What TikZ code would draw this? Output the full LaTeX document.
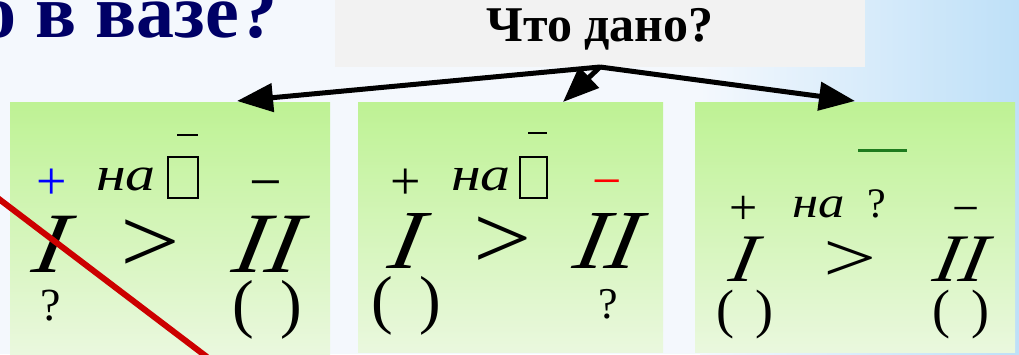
\documentclass[tikz,border=0pt]{standalone}
\usepackage{fontspec}
\setmainfont{Liberation Serif}
\usetikzlibrary{arrows.meta}
\definecolor{bgL}{RGB}{244,248,253}
\definecolor{bgR}{RGB}{190,224,248}
\definecolor{grnT}{RGB}{190,242,148}
\definecolor{grnB}{RGB}{234,248,222}
\definecolor{greyBox}{RGB}{242,242,242}
\definecolor{navy}{RGB}{0,0,102}
\definecolor{redLine}{RGB}{204,0,0}
\definecolor{darkGreen}{RGB}{30,123,30}
\newcommand\myfs[1]{\fontsize{#1}{#1}\selectfont}
\begin{document}
\begin{tikzpicture}[x=1pt,y=-1pt,
  txt/.style={anchor=base, inner sep=0pt, outer sep=0pt},
  roman/.style={txt, font={\myfs{#1}\itshape}, xslant=0.2, xscale=1.12, transform shape},
  gt/.style={txt, font={\myfs{#1}}},
  greenbox/.style={top color=grnT, bottom color=grnB, draw=none},
  arr/.style={line width=5pt, -{Triangle[length=36pt,width=28pt]}},
  glyphbox/.style={draw=black, line width=2.2pt},
  bar/.style={line width=1.8pt}]
\useasboundingbox (0,0) rectangle (1019,354);
\clip (0,0) rectangle (1019,354);
% background
\fill[bgL] (0,0) rectangle (1019,354);
\shade[left color=bgL, right color=bgR] (700,0) rectangle (1019,354);
% title
\node[txt, anchor=base east, text=navy, font={\myfs{76}\bfseries}] (title) at (277,37) {о в вазе?};
% question box
\node[fill=greyBox, minimum width=530pt, minimum height=67pt, inner sep=0pt] (q) at (600,33.5) {};
\node[txt, font={\myfs{50}\bfseries}] (qt) at (600,41) {Что дано?};
% green boxes
\path[greenbox] (10,102) rectangle (330,354);
\path[greenbox] (358,102) rectangle (663,352);
\path[greenbox] (695,102) rectangle (1015,352);
% arrows
\coordinate (src) at (600,67);
\coordinate (t1) at (237,101);
\coordinate (t2) at (563,102);
\coordinate (t3) at (855,101);
\draw[arr] (src) -- (t1);
\draw[arr] (src) -- (t2);
\draw[arr] (src) -- (t3);
% box 1
\node[txt, text=blue, font={\myfs{54}}] (p1) at (52,199) {+};
\node[txt, font={\myfs{48}\itshape}, xscale=1.25, transform shape] (na1) at (126,190) {на};
\draw[glyphbox] (168,157) rectangle (198,198);
\draw[bar] (177,135) -- (198,135);
\node[txt, font={\myfs{58}}] (m1) at (266,201) {−};
\node[roman=86] (i1) at (47,272) {I};
\node[gt=92, xscale=1.15, transform shape] (g1) at (150,272) {>};
\node[roman=86] (ii1) at (263,272) {II};
\node[txt, font={\myfs{46}}] (q1) at (51,320) {?};
\node[txt, font={\myfs{65}}] (par1) at (267,325) {(\hspace{26pt})};
% box 2
\node[txt, font={\myfs{54}}] (p2) at (406,199) {+};
\node[txt, font={\myfs{48}\itshape}, xscale=1.25, transform shape] (na2) at (481,190) {на};
\draw[glyphbox] (520,157) rectangle (547,198);
\draw[bar] (528,133) -- (547,133);
\node[txt, text=red, font={\myfs{52}}] (m2) at (607,198) {−};
\node[roman=84] (i2) at (402,268) {I};
\node[gt=90, xscale=1.15, transform shape] (g2) at (503,268) {>};
\node[roman=84] (ii2) at (603,268) {II};
\node[txt, font={\myfs{65}}] (par2) at (406,321) {(\hspace{26pt})};
\node[txt, font={\myfs{44}}] (q2) at (608,318) {?};
% box 3
\draw[darkGreen, line width=3pt] (858,150) -- (907,150);
\node[txt, font={\myfs{50}}] (p3) at (744,224) {+};
\node[txt, font={\myfs{44}\itshape}, xscale=1.2, transform shape] (na3) at (819,217) {на};
\node[txt, font={\myfs{42}}] (q3) at (877,217) {?};
\node[txt, font={\myfs{48}}] (m3) at (966,224) {−};
\node[roman=68] (i3) at (740,281) {I};
\node[gt=70, xscale=1.35, transform shape] (g3) at (850,281) {>};
\node[roman=68] (ii3) at (957,281) {II};
\node[txt, font={\myfs{54}}] (par3) at (745,327) {(\hspace{22pt})};
\node[txt, font={\myfs{54}}] (par4) at (961,327) {(\hspace{22pt})};
% red strike line
\draw[redLine, line width=6pt] (-5,196) -- (207,357);
\end{tikzpicture}
\end{document}
